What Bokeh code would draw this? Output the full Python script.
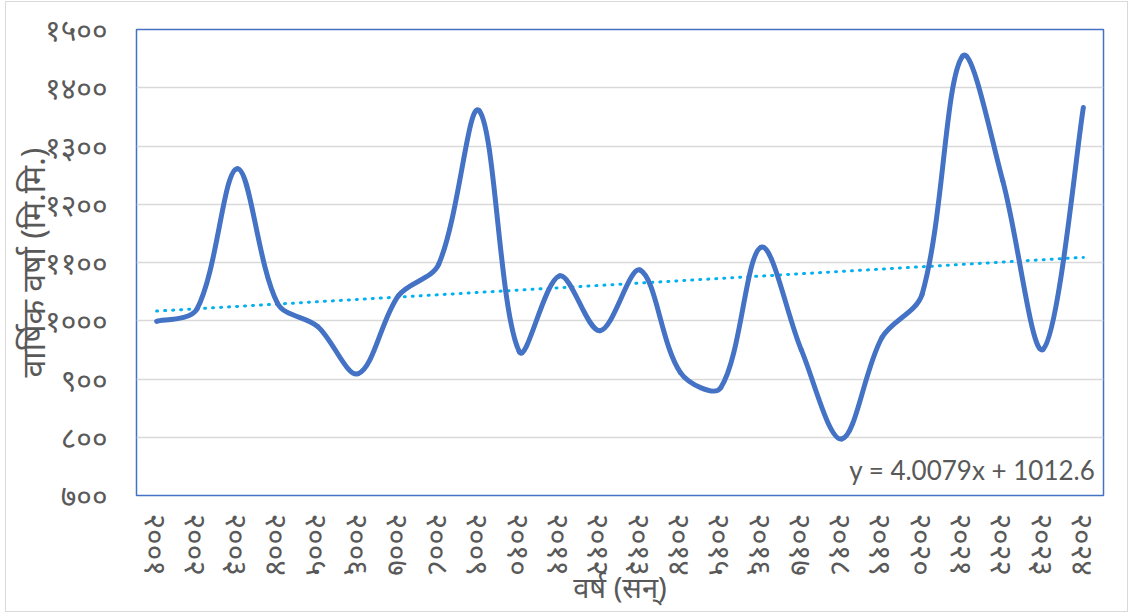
import numpy as np
from bokeh.plotting import figure
from bokeh.models import ColumnDataSource, FixedTicker, Label, Range1d
from bokeh.embed import file_html
from bokeh.resources import INLINE

# ---------------- data ----------------
year_index = list(range(1, 25))
year_labels = ["२००१", "२००२", "२००३", "२००४", "२००५", "२००६", "२००७", "२००८",
               "२००९", "२०१०", "२०११", "२०१२", "२०१३", "२०१४", "२०१५", "२०१६",
               "२०१७", "२०१८", "२०१९", "२०२०", "२०२१", "२०२२", "२०२३", "२०२४"]
rainfall = [999, 1020, 1261, 1030, 990, 909, 1043, 1097, 1361, 947, 1077, 983,
            1087, 911, 885, 1126, 950, 797, 971, 1046, 1454, 1240, 951, 1366]
y_ticks = [700, 800, 900, 1000, 1100, 1200, 1300, 1400, 1500]
y_tick_labels = ["७००", "८००", "९००", "१०००", "११००", "१२००", "१३००", "१४००", "१५००"]
trend_slope = 4.0079
trend_intercept = 1012.6
trend_text = "y = 4.0079x + 1012.6"
x_title = "वर्ष (सन्)"
y_title = "वार्षिक वर्षा (मि.मि.)"

LINE_COLOR = "#4472C4"
TREND_COLOR = "#00B0F0"
TEXT_COLOR = "#595959"
DEV_FONT = "Noto Sans"

FRAME_W, FRAME_H = 967, 466
X_LO, X_HI = 0.5, 24.5
Y_LO, Y_HI = 700, 1500

# --------------- smooth curve (Bezier segments through the data points) ---------------
sx = FRAME_W / (X_HI - X_LO)
sy = FRAME_H / (Y_HI - Y_LO)
x = np.array(year_index, dtype=float)
y = np.array(rainfall, dtype=float)
n = len(x)

def dist(i, j):
    return np.hypot((x[j] - x[i]) * sx, (y[j] - y[i]) * sy)

out_cx, out_cy, in_cx, in_cy = np.zeros(n), np.zeros(n), np.zeros(n), np.zeros(n)
for i in range(n):
    ip, inx = max(i - 1, 0), min(i + 1, n - 1)
    tx, ty = x[inx] - x[ip], y[inx] - y[ip]
    d_in = dist(ip, i) if i > 0 else dist(i, inx)
    d_out = dist(i, inx) if i < n - 1 else dist(ip, i)
    tot = d_in + d_out
    f_out = d_out / tot / 3.0
    f_in = d_in / tot / 3.0
    if i == 0 or i == n - 1:
        f_out = f_in = 1.0 / 6.0
    out_cx[i], out_cy[i] = x[i] + tx * f_out, y[i] + ty * f_out
    in_cx[i], in_cy[i] = x[i] - tx * f_in, y[i] - ty * f_in

seg_src = ColumnDataSource(dict(
    x0=x[:-1], y0=y[:-1], x1=x[1:], y1=y[1:],
    cx0=out_cx[:-1], cy0=out_cy[:-1], cx1=in_cx[1:], cy1=in_cy[1:]))

trend_x = [year_index[0], year_index[-1]]
trend_y = [trend_slope * v + trend_intercept for v in trend_x]

# --------------- figure ---------------
p = figure(frame_width=FRAME_W, frame_height=FRAME_H,
           x_range=Range1d(X_LO, X_HI), y_range=Range1d(Y_LO, Y_HI),
           output_backend="svg", toolbar_location=None,
           min_border_left=130, min_border_right=24, min_border_top=27, min_border_bottom=116)
p.margin = (1, 0, 0, 5)
p.styles = {"border": "1px solid #D9D9D9"}
p.background_fill_color = "white"
p.border_fill_color = "white"
p.outline_line_color = LINE_COLOR
p.outline_line_width = 1.5

p.xgrid.grid_line_color = None
p.ygrid.grid_line_color = "#D9D9D9"
p.ygrid.grid_line_width = 1.5
p.ygrid.ticker = FixedTicker(ticks=y_ticks)

# y axis
p.yaxis.ticker = FixedTicker(ticks=y_ticks)
p.yaxis.major_label_overrides = {t: l for t, l in zip(y_ticks, y_tick_labels)}
p.yaxis.axis_line_color = None
p.yaxis.major_tick_line_color = None
p.yaxis.minor_tick_line_color = None
p.yaxis.major_tick_out = 0
p.yaxis.major_tick_in = 0
p.yaxis.major_label_standoff = 29
p.yaxis.major_label_text_font = DEV_FONT
p.yaxis.major_label_text_font_size = "30px"
p.yaxis.major_label_text_color = TEXT_COLOR
p.yaxis.axis_label = y_title
p.yaxis.axis_label_text_font = DEV_FONT
p.yaxis.axis_label_text_font_size = "32px"
p.yaxis.axis_label_text_font_style = "normal"
p.yaxis.axis_label_text_color = TEXT_COLOR
p.yaxis.axis_label_standoff = -12

# x axis
p.xaxis.ticker = FixedTicker(ticks=year_index)
p.xaxis.major_label_overrides = {t: l for t, l in zip(year_index, year_labels)}
p.xaxis.major_label_orientation = "vertical"
p.xaxis.axis_line_color = None
p.xaxis.major_tick_line_color = None
p.xaxis.minor_tick_line_color = None
p.xaxis.major_tick_out = 0
p.xaxis.major_tick_in = 0
p.xaxis.major_label_standoff = 18
p.xaxis.major_label_text_font = DEV_FONT
p.xaxis.major_label_text_font_size = "30px"
p.xaxis.major_label_text_color = TEXT_COLOR
p.xaxis.axis_label = x_title
p.xaxis.axis_label_text_font = DEV_FONT
p.xaxis.axis_label_text_font_size = "29px"
p.xaxis.axis_label_text_font_style = "normal"
p.xaxis.axis_label_text_color = TEXT_COLOR
p.xaxis.axis_label_standoff = -12

# trend line (dotted)
p.line(trend_x, trend_y, line_color=TREND_COLOR, line_width=3, line_dash="1 7", line_cap="round")

# smoothed data line
p.bezier(x0="x0", y0="y0", x1="x1", y1="y1", cx0="cx0", cy0="cy0", cx1="cx1", cy1="cy1",
         source=seg_src, line_color=LINE_COLOR, line_width=5, line_cap="round", line_join="round")

# trendline equation
p.add_layout(Label(x=24.3, y=743, text=trend_text, text_align="right", text_baseline="alphabetic",
                   text_font="Lato", text_font_size="26px", text_color=TEXT_COLOR))

open("out.html", "w").write(file_html(p, INLINE))
